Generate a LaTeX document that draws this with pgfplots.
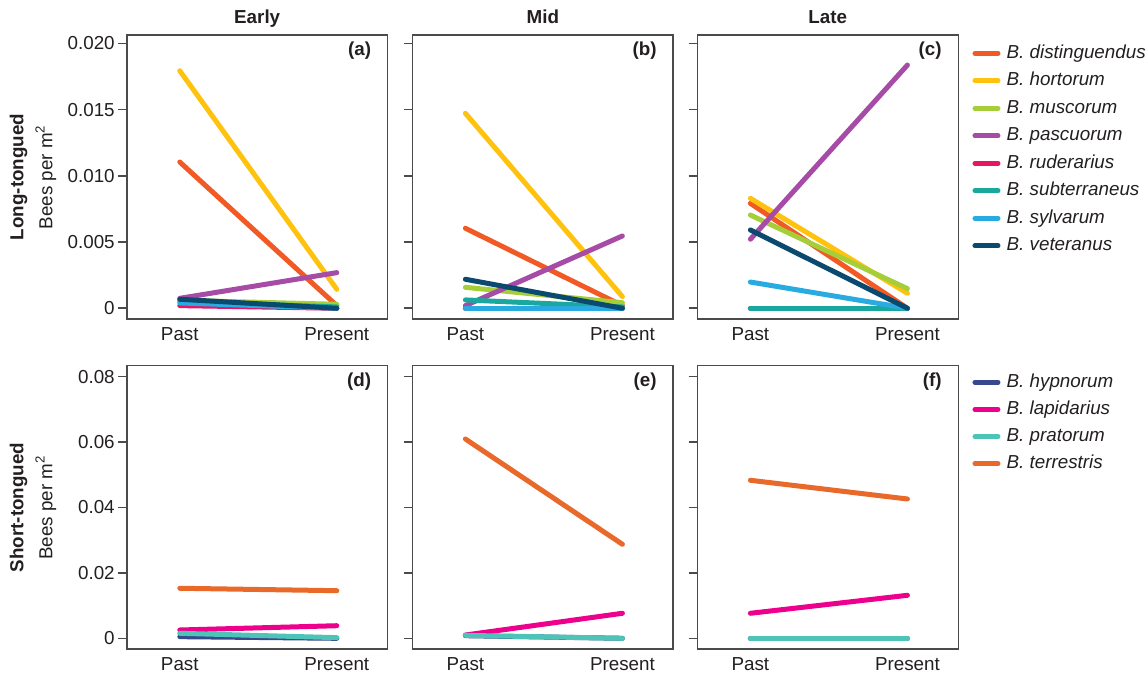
\documentclass[border=0pt]{standalone}
\usepackage{pgfplots}
\usepackage{pgfplotstable}
\usepackage{fontspec}
\setmainfont{Liberation Sans}
\pgfplotsset{compat=1.18}

\definecolor{cdist}{RGB}{241,90,36}
\definecolor{chort}{RGB}{255,194,14}
\definecolor{cmusc}{RGB}{166,206,57}
\definecolor{cpasc}{RGB}{166,76,166}
\definecolor{crude}{RGB}{232,20,100}
\definecolor{csubt}{RGB}{26,168,158}
\definecolor{csylv}{RGB}{41,171,226}
\definecolor{cvete}{RGB}{11,74,111}
\definecolor{chypn}{RGB}{55,72,140}
\definecolor{clapi}{RGB}{236,0,140}
\definecolor{cprat}{RGB}{78,196,184}
\definecolor{cterr}{RGB}{232,105,42}
\definecolor{caxis}{RGB}{75,75,75}
\definecolor{ctext}{RGB}{35,31,32}

% Long-tongued: t dist hort musc pasc rude subt sylv vete
\pgfplotstableread{
t dist hort musc pasc rude subt sylv vete
0 0.01104 0.01793 0.00060 0.00075 0.00020 0.00050 0.00040 0.00068
1 0.00020 0.00143 0.00030 0.00269 0.00000 0.00010 0.00000 0.00000
}\tabA
\pgfplotstableread{
t dist hort musc pasc rude subt sylv vete
0 0.00604 0.01472 0.00158 0.00020 0.00000 0.00063 0.00000 0.00219
1 0.00020 0.00088 0.00042 0.00546 0.00000 0.00010 0.00000 0.00000
}\tabB
\pgfplotstableread{
t dist hort musc pasc rude subt sylv vete
0 0.00792 0.00830 0.00704 0.00521 0.00000 0.00000 0.00198 0.00591
1 0.00000 0.00113 0.00148 0.01836 0.00000 0.00000 0.00000 0.00000
}\tabC
% Short-tongued: t hypn lapi prat terr
\pgfplotstableread{
t hypn lapi prat terr
0 0.00050 0.00254 0.00153 0.01530
1 0.00000 0.00385 0.00020 0.01456
}\tabD
\pgfplotstableread{
t hypn lapi prat terr
0 0.00080 0.00100 0.00090 0.06095
1 0.00000 0.00765 0.00000 0.02875
}\tabE
\pgfplotstableread{
t hypn lapi prat terr
0 0.00000 0.00765 0.00000 0.04832
1 0.00000 0.01315 0.00000 0.04260
}\tabF

\tikzset{lt/.style={anchor=base east, font=\bfseries, xshift=-5pt, yshift=-10.5pt},
  ttl/.style={anchor=base, font=\bfseries, yshift=5.6pt}}

\pgfplotsset{
  panel/.style={
    scale only axis, width=130.5pt, height=142pt,
    xmin=-0.338, xmax=1.324,
    xtick={0,1}, xticklabels={Past,Present},
    x tick style={draw=none},
    xticklabel style={inner ysep=0pt, yshift=0.4pt},
    scaled y ticks=false,
    ytick pos=left, tick align=outside, major tick length=4.3pt,
    y tick style={caxis, line width=0.8pt},
    axis line style={caxis, line width=0.8pt},
    yticklabel style={inner xsep=1.5pt},
    clip=false,
    every axis plot/.append style={line width=2.5pt, line cap=round},
    legend image code/.code={\draw[##1, line width=2.5pt, line cap=round] (0pt,0pt) -- (11.5pt,0pt);},
  },
  toprow/.style={panel, ymin=-0.00081, ymax=0.02063, ytick={0,0.005,0.010,0.015,0.020}},
  botrow/.style={panel, height=141.8pt, ymin=-0.00336, ymax=0.08336, ytick={0,0.02,0.04,0.06,0.08}},
}

\newcommand{\longplots}[1]{%
  \addplot[cdist] table[x=t,y=dist] {#1};
  \addplot[chort] table[x=t,y=hort] {#1};
  \addplot[cmusc] table[x=t,y=musc] {#1};
  \addplot[cpasc] table[x=t,y=pasc] {#1};
  \addplot[crude] table[x=t,y=rude] {#1};
  \addplot[csubt] table[x=t,y=subt] {#1};
  \addplot[csylv] table[x=t,y=sylv] {#1};
  \addplot[cvete] table[x=t,y=vete] {#1};
}
\newcommand{\shortplots}[1]{%
  \addplot[chypn] table[x=t,y=hypn] {#1};
  \addplot[clapi] table[x=t,y=lapi] {#1};
  \addplot[cprat] table[x=t,y=prat] {#1};
  \addplot[cterr] table[x=t,y=terr] {#1};
}

\begin{document}
\fontsize{9.4}{11.3}\selectfont
\color{ctext}
\begin{tikzpicture}
\path[use as bounding box] (0,0) rectangle (574pt,337.5pt);

% ---- top row
\begin{axis}[toprow, at={(63.35pt,178pt)}, anchor=south west,
  yticklabels={0,0.005,0.010,0.015,0.020}]
\longplots{\tabA}
\node[lt] at (rel axis cs:1,1) {(a)};
\node[ttl] at (rel axis cs:0.5,1) {Early};
\end{axis}

\begin{axis}[toprow, at={(206.15pt,178pt)}, anchor=south west,
  yticklabels={}]
\longplots{\tabB}
\node[lt] at (rel axis cs:1,1) {(b)};
\node[ttl] at (rel axis cs:0.5,1) {Mid};
\end{axis}

\begin{axis}[toprow, at={(348.65pt,178pt)}, anchor=south west,
  yticklabels={},
  legend cell align=left,
  legend style={at={(1.0544,0.9673)}, anchor=north west, draw=none, fill=none,
    inner sep=0pt, outer sep=0pt, row sep=4.75pt,
    nodes={inner sep=0pt, text height=7pt, text depth=2pt, font=\itshape},
    /tikz/every odd column/.append style={column sep=3.1pt}}]
\longplots{\tabC}
\legend{B. distinguendus, B. hortorum, B. muscorum, B. pascuorum, B. ruderarius, B. subterraneus, B. sylvarum, B. veteranus}
\node[lt] at (rel axis cs:1,1) {(c)};
\node[ttl] at (rel axis cs:0.5,1) {Late};
\end{axis}

% ---- bottom row
\begin{axis}[botrow, at={(63.35pt,12.85pt)}, anchor=south west,
  yticklabels={0,0.02,0.04,0.06,0.08}]
\shortplots{\tabD}
\node[lt] at (rel axis cs:1,1) {(d)};
\end{axis}

\begin{axis}[botrow, at={(206.15pt,12.85pt)}, anchor=south west, yticklabels={}]
\shortplots{\tabE}
\node[lt] at (rel axis cs:1,1) {(e)};
\end{axis}

\begin{axis}[botrow, at={(348.65pt,12.85pt)}, anchor=south west, yticklabels={},
  legend cell align=left,
  legend style={at={(1.0544,0.9732)}, anchor=north west, draw=none, fill=none,
    inner sep=0pt, outer sep=0pt, row sep=4.6pt,
    nodes={inner sep=0pt, text height=7pt, text depth=2pt, font=\itshape},
    /tikz/every odd column/.append style={column sep=3.1pt}}]
\shortplots{\tabF}
\legend{B. hypnorum, B. lapidarius, B. pratorum, B. terrestris}
\node[lt] at (rel axis cs:1,1) {(f)};
\end{axis}

% ---- row labels
\node[rotate=90, font=\bfseries] at (9.25pt,249pt) {Long-tongued};
\node[rotate=90] at (22.9pt,249pt) {Bees per m\textsuperscript{2}};
\node[rotate=90, font=\bfseries] at (9.25pt,83.75pt) {Short-tongued};
\node[rotate=90] at (22.9pt,83.75pt) {Bees per m\textsuperscript{2}};
\end{tikzpicture}
\end{document}
